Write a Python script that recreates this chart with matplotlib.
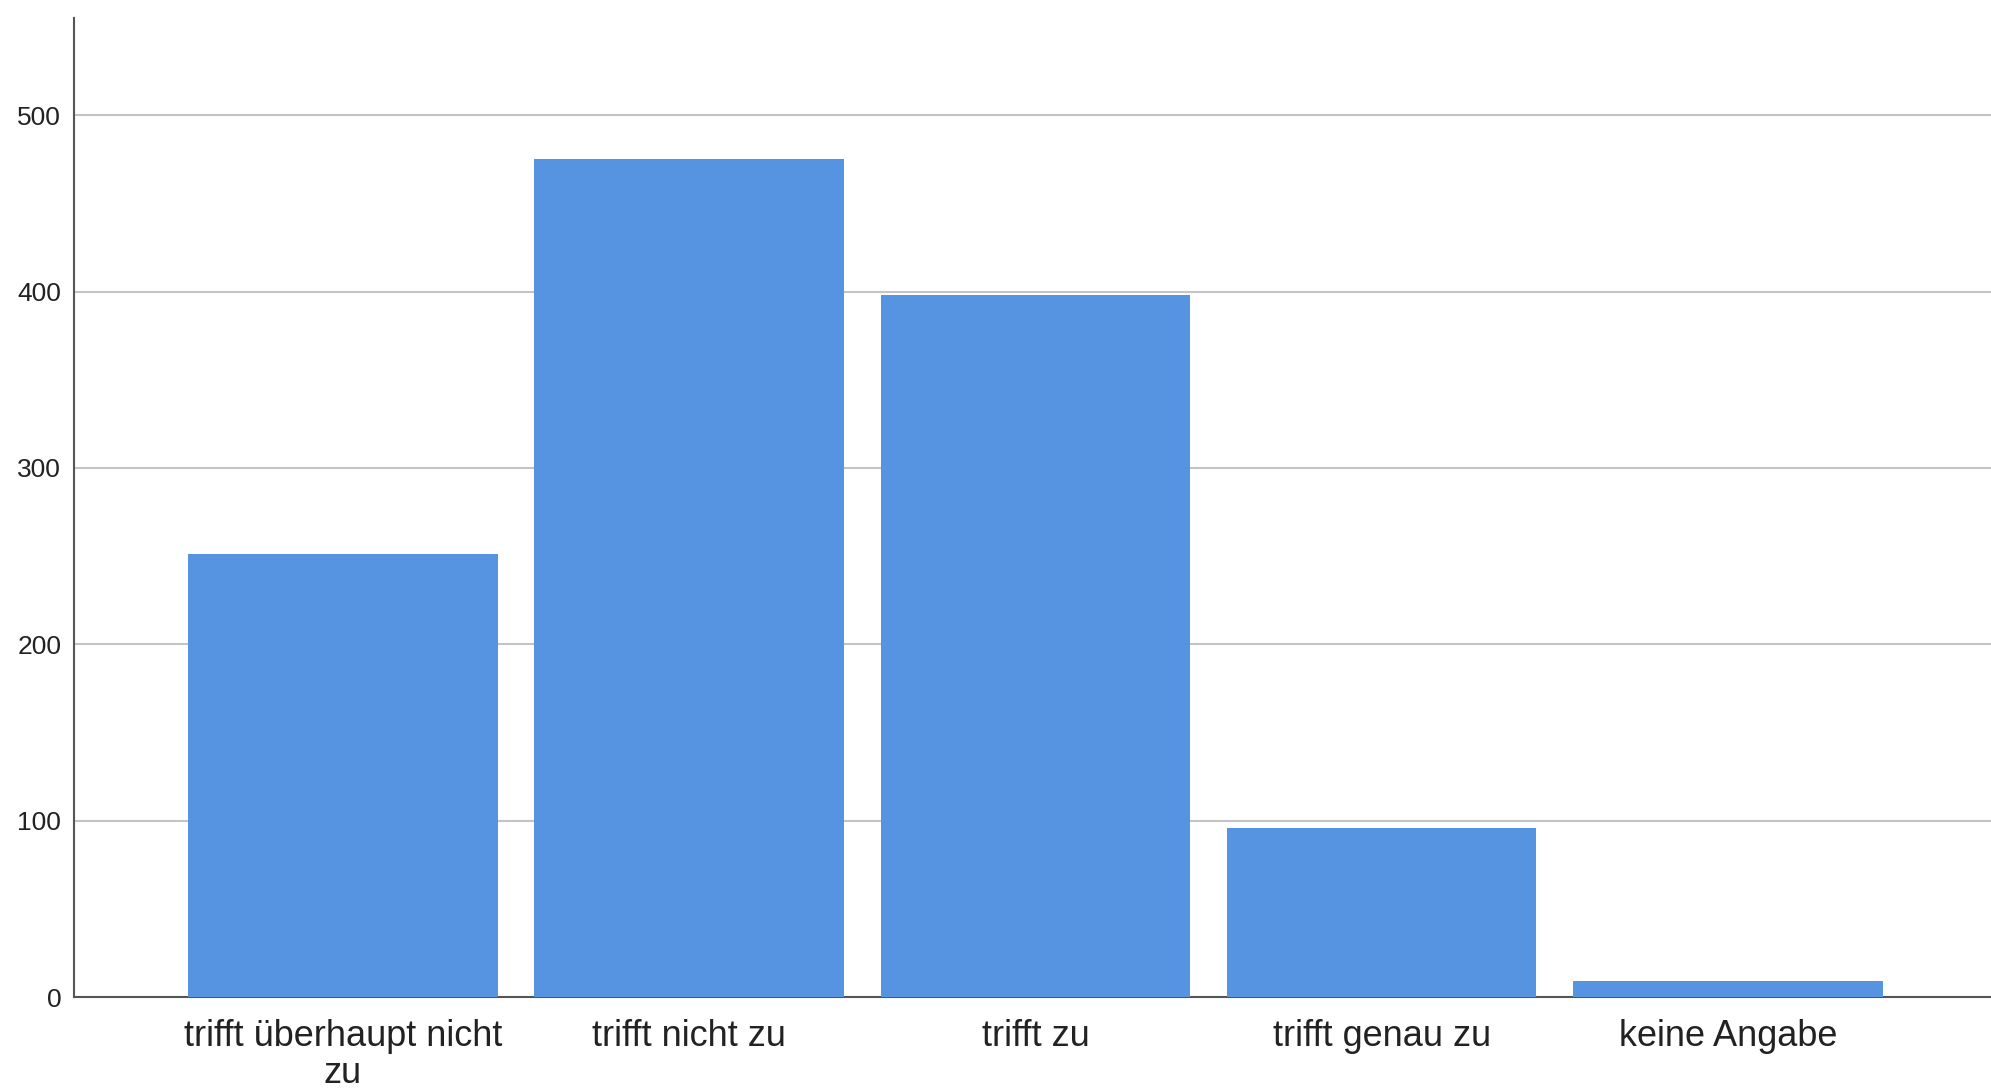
import matplotlib
matplotlib.use('Agg')
import matplotlib.pyplot as plt

# Daten
kategorien = ['trifft überhaupt nicht\nzu', 'trifft nicht zu', 'trifft zu', 'trifft genau zu', 'keine Angabe']
anzahl = [251, 475, 398, 96, 9]
y_ticks = [0, 100, 200, 300, 400, 500]

plt.rcParams['font.family'] = ['Liberation Sans', 'DejaVu Sans']

fig = plt.figure(figsize=(19.91, 10.9), dpi=100)
ax = fig.add_axes([0.037, 0.0853, 0.963, 0.898])

x = list(range(len(kategorien)))
ax.bar(x, anzahl, width=0.894, color='#5694e1', zorder=3)

ax.set_xlim(-0.778, 4.76)
ax.set_ylim(0, 555)
ax.set_yticks(y_ticks)
ax.set_xticks(x)
ax.set_xticklabels(kategorien, fontsize=26, color='#222222', linespacing=1.05)
ax.tick_params(axis='y', length=0, pad=9, labelsize=19, labelcolor='#222222')
ax.tick_params(axis='x', length=0, pad=16)

# Gitterlinien
ax.yaxis.grid(True, color='#c4c4c4', linewidth=1.5, zorder=0)
ax.set_axisbelow(True)

for side in ['top', 'right']:
    ax.spines[side].set_visible(False)
ax.spines['left'].set_color('#555555')
ax.spines['bottom'].set_color('#555555')
ax.spines['left'].set_linewidth(1.5)
ax.spines['bottom'].set_linewidth(1.5)

plt.savefig('out.png', dpi=100)
plt.close(fig)
